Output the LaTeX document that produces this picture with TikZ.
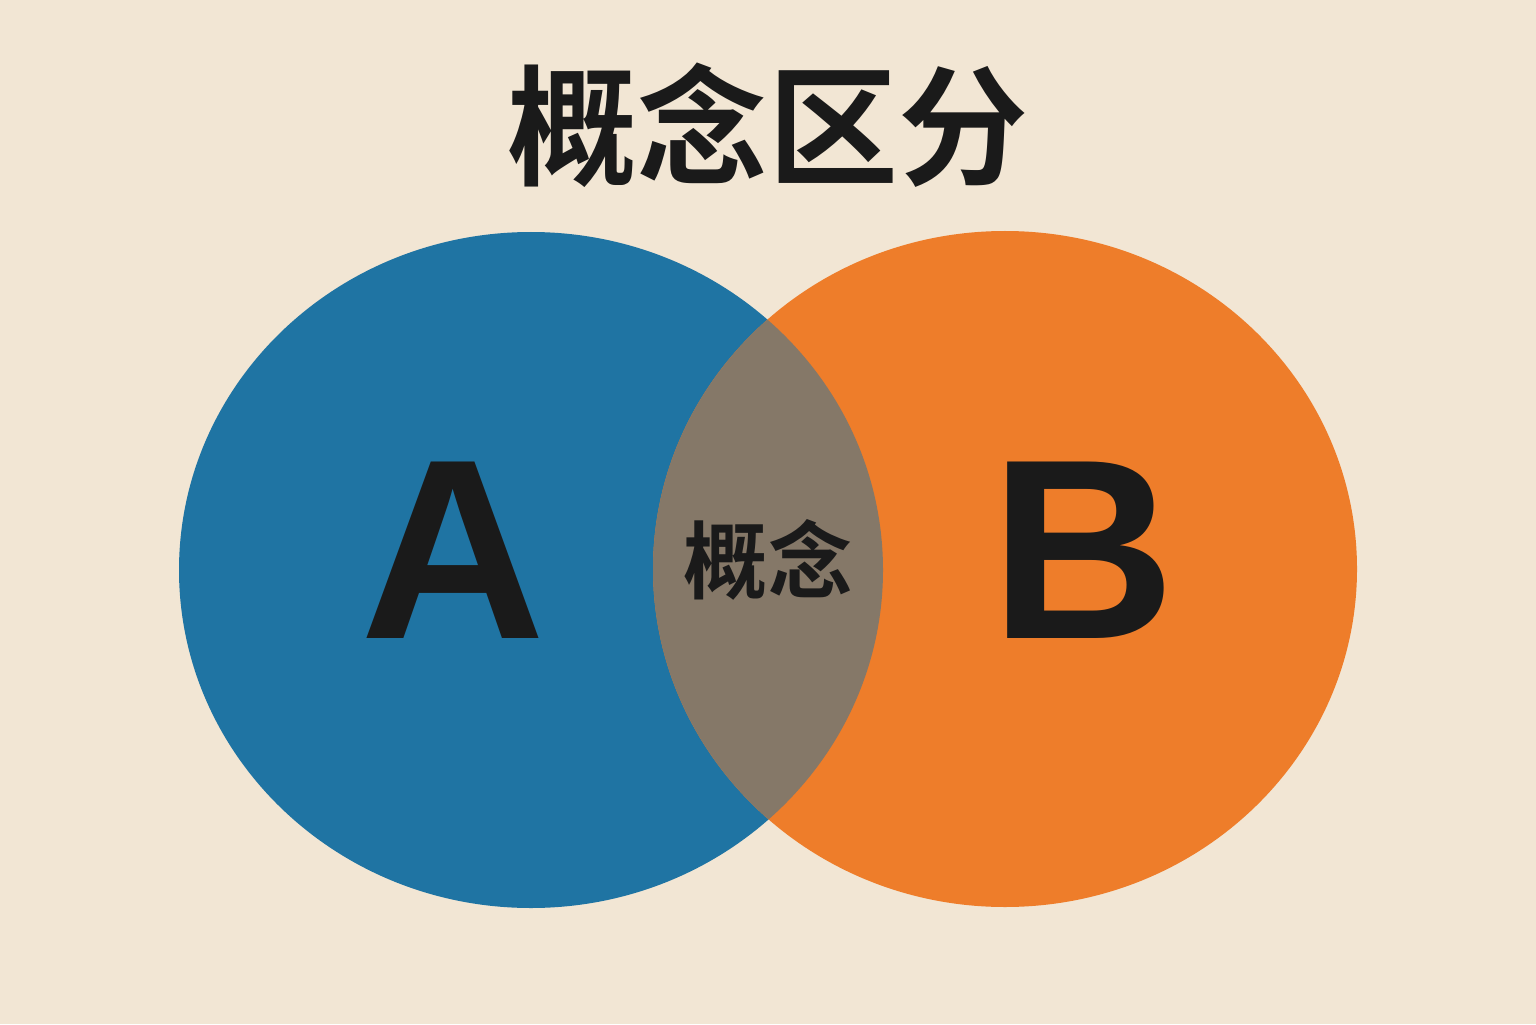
\documentclass[tikz,border=0pt]{standalone}
\usepackage{fontspec}
\usepackage{tikz}
\usetikzlibrary{positioning}
\newfontfamily\cjk{Noto Sans CJK SC}[BoldFont={Noto Sans CJK SC Bold}]
\newfontfamily\latin{Liberation Sans}
\definecolor{paper}{HTML}{F2E6D4}
\definecolor{setA}{HTML}{1F74A3}
\definecolor{setB}{HTML}{EE7D2A}
\definecolor{lens}{HTML}{857868}
\definecolor{ink}{HTML}{1A1A1A}

\begin{document}
\begin{tikzpicture}[
        setlabel/.style={text=ink,font=\latin\bfseries\fontsize{73}{73}\selectfont},
        cjklabel/.style={text=ink,font=\cjk\bfseries}]
        \fill[paper] (0,0) rectangle (15.36,10.24);
        \useasboundingbox (0,0) rectangle (15.36,10.24);
        % the two sets
        \fill[setA] (5.31,4.54) ellipse [x radius=3.52,y radius=3.38];
        \fill[setB] (10.05,4.55) ellipse [x radius=3.52,y radius=3.38];
        \begin{scope}
            \clip (5.31,4.54) ellipse [x radius=3.52,y radius=3.38];
            \fill[lens] (10.05,4.55) ellipse [x radius=3.52,y radius=3.38];
        \end{scope}
        \node[cjklabel,font=\cjk\bfseries\fontsize{37}{37}\selectfont] (title) at (7.68,8.99) {概念区分};
        \node[setlabel] (A) at (4.53,4.74) {A};
        \node[setlabel] (B) at (10.83,4.74) {B};
        \node[cjklabel,font=\cjk\bfseries\fontsize{24}{24}\selectfont] (common) at (7.68,4.64) {概念};
    \end{tikzpicture}
\end{document}
